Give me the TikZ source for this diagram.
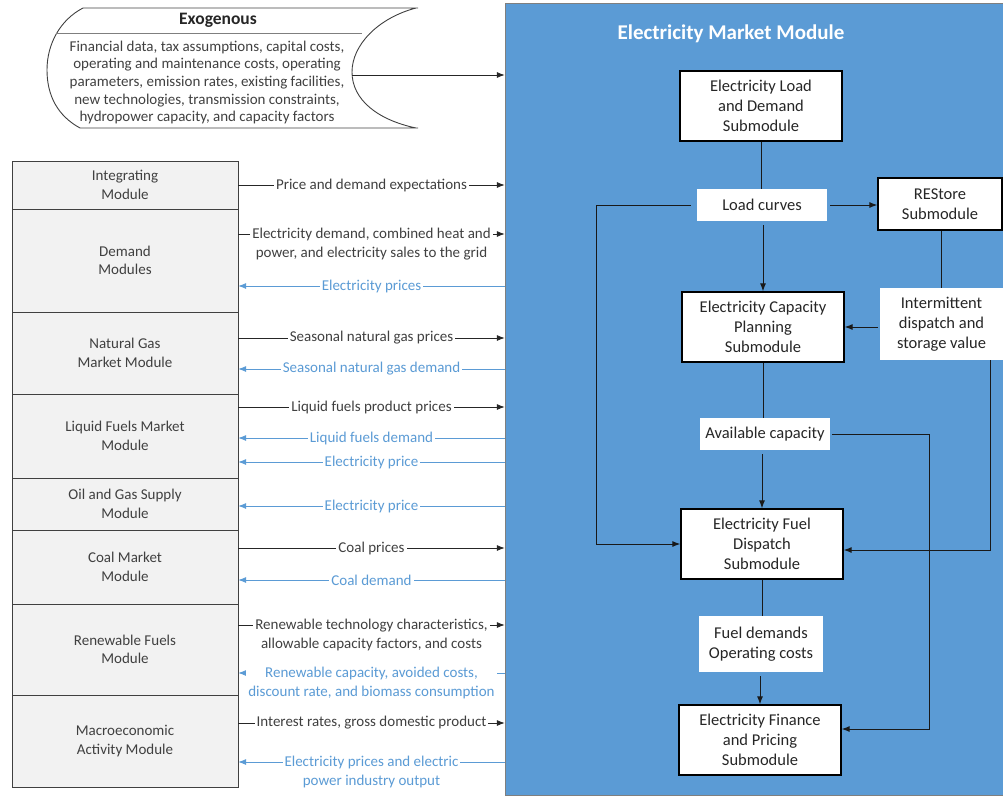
\documentclass[tikz,border=0pt]{standalone}
\usepackage{fontspec}
\setmainfont{Carlito}
\usetikzlibrary{arrows.meta}
\definecolor{emmblue}{RGB}{91,155,213}
\definecolor{modgray}{RGB}{242,242,242}
\definecolor{inkgray}{RGB}{64,64,64}
\definecolor{edgegray}{RGB}{127,127,127}

\begin{document}
\begin{tikzpicture}[
		x=1pt, y=-1pt,
		every node/.style={font=\fontsize{15}{18.5}\selectfont, text=inkgray, align=center},
		modbox/.style={rectangle, draw=inkgray, fill=modgray, minimum width=226pt, inner sep=0pt},
		subbox/.style={rectangle, draw=black, line width=1.3pt, fill=white, minimum width=162pt, minimum height=70pt, inner sep=0pt, text=black!85, font=\fontsize{16.5}{20}\selectfont},
		databox/.style={rectangle, fill=white, minimum width=130pt, minimum height=32pt, inner sep=0pt, text=black!85, font=\fontsize{16.5}{20}\selectfont},
		panel/.style={rectangle, draw=edgegray, fill=emmblue, minimum width=504pt, minimum height=792pt},
		flow/.style={-{Latex[length=8pt,width=6pt]}, black!90, line width=1pt},
		link/.style={black!90, line width=1pt},
		toemm/.style={-{Latex[length=8pt,width=6pt]}, black!85, line width=0.8pt},
		fromemm/.style={{Latex[length=8pt,width=6pt]}-, emmblue, line width=0.8pt},
		lbl/.style={fill=white, inner sep=2pt},
		lbltwo/.style={fill=white, inner sep=2pt, anchor=north, yshift=8pt}
	]
  \useasboundingbox (0,0) rectangle (1003,798);

  % exogenous inputs
  \draw[inkgray, line width=0.9pt] (83,8) -- (418,8)
    (416,8) .. controls (378,18) and (352,45) .. (352,72) .. controls (352,100) and (378,120) .. (416,128)
    (418,128) -- (80,128) .. controls (58,116) and (47,96) .. (47,70) .. controls (47,44) and (60,20) .. (83,8);
  \draw[edgegray, line width=0.8pt] (56,33) -- (362,33);
  \node (exotitle) [font=\bfseries\fontsize{17.5}{21}\selectfont, text=black!85] at (218,20) {Exogenous};
  \node (exobody) [font=\fontsize{15}{17.7}\selectfont] at (207,82.5)
    {Financial data, tax assumptions, capital costs,\\
     operating and maintenance costs, operating\\
     parameters, emission rates, existing facilities,\\
     new technologies, transmission constraints,\\
     hydropower capacity, and capacity factors};
  \coordinate (exoR) at (352,75);

  % electricity market module
  \node (emm) [panel] at (757,399) {};
  \node (emmtitle) [font=\bfseries\fontsize{21}{25}\selectfont, text=white] at (731,34) {Electricity Market Module};
  \draw[toemm] (exoR) -- (emm.west |- exoR);

  % other modules
  \node (intg) [modbox, minimum height=48pt] at (125,185) {Integrating\\Module};
  \node (dmd) [modbox, minimum height=103pt] at (125,260.5) {Demand\\Modules};
  \node (ngmm) [modbox, minimum height=82pt] at (125,353) {Natural Gas\\Market Module};
  \node (lfmm) [modbox, minimum height=84pt] at (125,436) {Liquid Fuels Market\\Module};
  \node (ogsm) [modbox, minimum height=52pt] at (125,504) {Oil and Gas Supply\\Module};
  \node (cmm) [modbox, minimum height=74pt] at (125,567) {Coal Market\\Module};
  \node (rfm) [modbox, minimum height=91pt] at (125,649.5) {Renewable Fuels\\Module};
  \node (mam) [modbox, minimum height=92pt] at (125,741) {Macroeconomic\\Activity Module};

  % flows between modules and the EMM
  \draw[toemm] (intg.east |- 0,185) -- node[lbl]{Price and demand expectations} (emm.west |- 0,185);
  \draw[toemm] (dmd.east |- 0,234) -- node[lbltwo]{Electricity demand, combined heat and\\power, and electricity sales to the grid} (emm.west |- 0,234);
  \draw[fromemm] (dmd.east |- 0,286) -- node[lbl, text=emmblue]{Electricity prices} (emm.west |- 0,286);
  \draw[toemm] (ngmm.east |- 0,338) -- node[lbl]{Seasonal natural gas prices} (emm.west |- 0,338);
  \draw[fromemm] (ngmm.east |- 0,369) -- node[lbl, text=emmblue]{Seasonal natural gas demand} (emm.west |- 0,369);
  \draw[toemm] (lfmm.east |- 0,407) -- node[lbl]{Liquid fuels product prices} (emm.west |- 0,407);
  \draw[fromemm] (lfmm.east |- 0,438) -- node[lbl, text=emmblue]{Liquid fuels demand} (emm.west |- 0,438);
  \draw[fromemm] (lfmm.east |- 0,462) -- node[lbl, text=emmblue]{Electricity price} (emm.west |- 0,462);
  \draw[fromemm] (ogsm.east |- 0,506) -- node[lbl, text=emmblue]{Electricity price} (emm.west |- 0,506);
  \draw[toemm] (cmm.east |- 0,548) -- node[lbl]{Coal prices} (emm.west |- 0,548);
  \draw[fromemm] (cmm.east |- 0,580) -- node[lbl, text=emmblue]{Coal demand} (emm.west |- 0,580);
  \draw[toemm] (rfm.east |- 0,625) -- node[lbltwo]{Renewable technology characteristics,\\allowable capacity factors, and costs} (emm.west |- 0,625);
  \draw[fromemm] (rfm.east |- 0,673) -- node[lbltwo, text=emmblue]{Renewable capacity, avoided costs,\\discount rate, and biomass consumption} (emm.west |- 0,673);
  \draw[toemm] (mam.east |- 0,723) -- node[lbl]{Interest rates, gross domestic product} (emm.west |- 0,723);
  \draw[fromemm] (mam.east |- 0,762) -- node[lbltwo, text=emmblue]{Electricity prices and electric\\power industry output} (emm.west |- 0,762);

  % submodules
  \node (eld) [subbox] at (761,106) {Electricity Load\\and Demand\\Submodule};
  \node (lc) [databox] at (762,205) {Load curves};
  \node (rst) [subbox, minimum width=124pt, minimum height=52pt] at (940,204) {REStore\\Submodule};
  \node (itm) [databox, minimum width=123pt, minimum height=72pt] at (941.5,324) {Intermittent\\dispatch and\\storage value};
  \node (ecp) [subbox] at (763,327) {Electricity Capacity\\Planning\\Submodule};
  \node (avc) [databox] at (765,434) {Available capacity};
  \node (efd) [subbox] at (762,544) {Electricity Fuel\\Dispatch\\Submodule};
  \node (fdoc) [databox, minimum width=124pt, minimum height=56pt] at (761,644) {Fuel demands\\Operating costs};
  \node (efp) [subbox] at (760,740) {Electricity Finance\\and Pricing\\Submodule};

  \draw[link] (eld.south) -- (eld.south |- lc.north);
  \draw[flow, shorten <=4pt] (lc.south -| ecp.north) -- (ecp.north);
  \draw[flow, shorten <=3pt] (lc.east) -- (lc.east -| rst.west);
  \draw[flow, shorten <=6pt] (lc.west) -| ([xshift=-84pt]efd.west) -- (efd.west);
  \draw[link] (rst.south -| itm.north) -- (itm.north);
  \draw[flow, shorten <=2pt] (ecp.east -| itm.west) -- (ecp.east);
  \draw[flow] ([xshift=48.5pt]itm.south) |- ([yshift=-6pt]efd.east);
  \draw[link] (ecp.south) -- (ecp.south |- avc.north);
  \draw[flow, shorten <=4pt] (avc.south -| efd.north) -- (efd.north);
  \draw[flow, shorten <=2pt] (avc.east) -| ([xshift=88pt, yshift=11pt]efp.east) -- ([yshift=11pt]efp.east);
  \draw[link] (efd.south) -- (efd.south |- fdoc.north);
  \draw[flow, shorten <=4pt] (fdoc.south -| efp.north) -- (efp.north);
\end{tikzpicture}
\end{document}
